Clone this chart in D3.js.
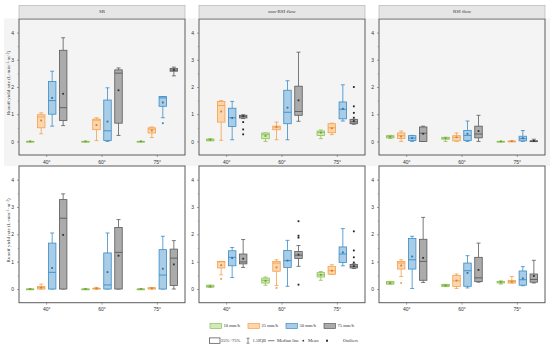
<!DOCTYPE html>
<html>
<head>
<meta charset="utf-8">
<script src="https://cdn.jsdelivr.net/npm/d3@7"></script>
<style>
  body { margin: 0; background: #fff; }
  svg { display: block; font-family: "Liberation Serif", "DejaVu Serif", serif; }
</style>
</head>
<body>
<div id="chart"></div>
<script>
// ===============================
// DATA
// ===============================
const angles = ["40°", "60°", "75°"];
const intensities = ["10 mm/h", "25 mm/h", "50 mm/h", "75 mm/h"];
const panelTitles = ["SR", "non-RSI flow", "RSI flow"];
const yTicks = [0, 1, 2, 3, 4];

// each box: [low whisker, q1, median, q3, high whisker, mean, outliers]
// order: 40° (10,25,50,75), 60° (...), 75° (...)
const srTop = [
  [0, 0, 0, 0, 0, 0, []], [0.28, 0.5, 0.9, 0.98, 1.05, 0.77, []], [0.56, 1.0, 1.5, 2.2, 2.58, 1.6, []], [0.58, 0.77, 1.24, 3.35, 3.81, 1.75, []],
  [0, 0, 0, 0, 0, 0, []], [0.03, 0.43, 0.78, 0.82, 0.87, 0.6, []], [0, 0.03, 0.39, 1.52, 1.97, 0.73, []], [0.22, 0.67, 2.51, 2.63, 2.7, 1.88, []],
  [0, 0, 0, 0, 0, 0, []], [0.14, 0.31, 0.45, 0.5, 0.53, 0.4, []], [0.87, 1.29, 1.6, 1.65, 1.65, 1.43, [0.67]], [2.41, 2.58, 2.62, 2.68, 2.73, 2.63, []]
];
const nonRsiTop = [
  [0.03, 0.02, 0.06, 0.085, 0.1, 0.06, []], [0.04, 0.71, 1.32, 1.47, 1.5, 1.1, []], [0.06, 0.55, 0.87, 1.22, 1.47, 0.86, []], [0.84, 0.86, 0.92, 0.96, 0.98, 0.93, [0.71, 0.44, 0.26]],
  [0, 0.1, 0.25, 0.31, 0.31, 0.2, []], [0.06, 0.43, 0.53, 0.56, 0.71, 0.52, []], [0.06, 0.65, 1.07, 1.88, 2.23, 1.24, []], [0.74, 0.96, 1.1, 2.03, 3.28, 1.51, []],
  [0.1, 0.22, 0.33, 0.38, 0.42, 0.32, []], [0.25, 0.32, 0.5, 0.65, 0.67, 0.48, []], [0.75, 0.83, 1.18, 1.45, 2.08, 1.2, []], [0.63, 0.65, 0.72, 0.81, 0.81, 0.75, [2.0, 1.29, 1.05, 0.87]]
];
const rsiTop = [
  [0.11, 0.13, 0.17, 0.21, 0.22, 0.17, []], [0, 0.11, 0.21, 0.31, 0.38, 0.18, []], [0, 0.03, 0.12, 0.21, 0.22, 0.12, []], [0, 0, 0.3, 0.53, 0.56, 0.28, []],
  [0, 0.08, 0.12, 0.15, 0.15, 0.12, []], [0, 0.02, 0.15, 0.21, 0.31, 0.15, []], [0, 0.03, 0.22, 0.4, 0.75, 0.28, []], [0, 0.13, 0.27, 0.56, 0.96, 0.38, []],
  [0, 0, 0, 0, 0, 0, []], [0, 0, 0.01, 0.01, 0.01, 0.01, []], [0, 0.02, 0.1, 0.19, 0.4, 0.12, []], [0, 0, 0.01, 0.02, 0.08, 0.02, []]
];
const srBottom = [
  [0, 0, 0, 0, 0, 0, []], [0, 0, 0.05, 0.09, 0.18, 0.05, []], [0, 0, 0.61, 1.68, 2.05, 0.77, []], [0, 0, 2.59, 3.27, 3.48, 1.98, []],
  [0, 0, 0, 0, 0, 0, []], [0, 0, 0.02, 0.03, 0.06, 0.02, []], [0, 0, 0.15, 1.32, 2.05, 0.62, []], [0, 0, 1.34, 2.25, 2.54, 1.22, []],
  [0, 0, 0, 0, 0, 0, []], [0, 0, 0.03, 0.05, 0.05, 0.03, []], [0, 0, 0.51, 1.44, 1.93, 0.74, []], [0, 0.13, 1.13, 1.46, 1.77, 0.9, []]
];
const nonRsiBottom = [
  [0.06, 0.07, 0.1, 0.14, 0.14, 0.1, []], [0.52, 0.77, 1.0, 1.01, 1.01, 0.87, [0.37]], [0.42, 0.85, 1.16, 1.4, 1.52, 1.13, []], [0.79, 0.92, 0.99, 1.28, 1.81, 1.11, []],
  [0.14, 0.22, 0.32, 0.4, 0.44, 0.3, []], [0.13, 0.65, 0.95, 1.01, 1.07, 0.79, [0.04]], [0.1, 0.79, 1.04, 1.41, 1.78, 1.04, []], [0.83, 1.12, 1.24, 1.37, 1.59, 1.26, [2.48, 1.95, 1.88, 0.16]],
  [0.32, 0.44, 0.52, 0.6, 0.64, 0.52, []], [0.54, 0.54, 0.67, 0.83, 0.89, 0.67, []], [0.85, 0.97, 1.28, 1.54, 2.21, 1.34, []], [0.75, 0.77, 0.83, 0.9, 0.92, 0.84, [2.11, 1.41, 1.16, 0.97]]
];
const rsiBottom = [
  [0.18, 0.18, 0.22, 0.28, 0.28, 0.22, []], [0.46, 0.73, 0.95, 1.01, 1.07, 0.86, [0.22]], [0.02, 0.73, 1.07, 1.85, 1.93, 1.19, []], [0.24, 0.32, 1.01, 1.82, 2.62, 1.14, []],
  [0.09, 0.09, 0.13, 0.17, 0.17, 0.13, []], [0.02, 0.09, 0.3, 0.5, 0.55, 0.31, []], [0.04, 0.1, 0.67, 0.95, 1.22, 0.59, []], [0.25, 0.27, 0.41, 1.16, 1.68, 0.7, []],
  [0.18, 0.22, 0.26, 0.28, 0.3, 0.25, []], [0.22, 0.22, 0.27, 0.31, 0.46, 0.27, []], [0.12, 0.14, 0.34, 0.66, 0.82, 0.39, []], [0.22, 0.25, 0.35, 0.55, 1.05, 0.48, []]
];

const rowData = [
  [srTop, nonRsiTop, rsiTop],
  [srBottom, nonRsiBottom, rsiBottom]
];

// ===============================
// STYLE
// ===============================
const strokeColors = ["#8cc152", "#f5a04a", "#3a8cc8", "#5a5a5a"];
const fillColors = ["#d3e9bb", "#fdd6ae", "#a9cde6", "#ababab"];

const svg = d3.select("#chart").append("svg")
  .attr("width", 550)
  .attr("height", 347);

const panelX = [19, 199, 379];
const panelW = 166;
const rowTop = [19, 166];
const rowBottom = [155, 302.7];
const fs = 5;

// light grey backdrop behind the top row
svg.append("rect")
  .attr("x", 4).attr("y", 18.5)
  .attr("width", 546).attr("height", 147.5)
  .attr("fill", "#f4f4f4");

// ===============================
// PANELS
// ===============================
rowData.forEach((row, r) => {
  const y = d3.scaleLinear().domain([-0.5, 4.5]).range([rowBottom[r], rowTop[r]]);

  row.forEach((boxes, p) => {
    const x0 = panelX[p];
    const x = d3.scaleBand().domain(angles).range([x0, x0 + panelW]);
    const xi = d3.scalePoint().domain(intensities).range([-16.5, 16.5]);
    const boxW = 7.5;

    const g = svg.append("g");

    // panel frame
    g.append("rect")
      .attr("x", x0).attr("y", rowTop[r])
      .attr("width", panelW).attr("height", rowBottom[r] - rowTop[r])
      .attr("fill", r === 0 ? "#f4f4f4" : "#fff")
      .attr("stroke", "#5c5c5c")
      .attr("stroke-width", 1);

    // header strip (top row only)
    if (r === 0) {
      g.append("rect")
        .attr("x", x0).attr("y", 5.5)
        .attr("width", panelW).attr("height", 13)
        .attr("fill", "#e6e6e6")
        .attr("stroke", "#aaa")
        .attr("stroke-width", 0.6);
      g.append("text")
        .attr("x", x0 + panelW / 2).attr("y", 12)
        .attr("text-anchor", "middle")
        .attr("dominant-baseline", "middle")
        .attr("font-size", fs)
        .attr("fill", "#333")
        .text(panelTitles[p]);
    }

    // y axis
    const yAxis = g.append("g")
      .attr("transform", `translate(${x0},0)`)
      .call(d3.axisLeft(y).tickValues(yTicks).tickFormat(d3.format("d")).tickSize(2).tickPadding(3));
    yAxis.select(".domain").remove();
    yAxis.selectAll("text").attr("font-size", fs).attr("font-family", null).attr("fill", "#333");
    yAxis.selectAll("line").attr("stroke", "#666").attr("stroke-width", 0.6);
    g.append("g")
      .attr("transform", `translate(${x0},0)`)
      .call(d3.axisLeft(y).tickValues(yTicks.slice(0, 4).map(v => v + 0.5)).tickSize(1.2).tickFormat(""))
      .call(a => a.select(".domain").remove())
      .call(a => a.selectAll("line").attr("stroke", "#666").attr("stroke-width", 0.5));

    // x axis
    const xAxis = g.append("g")
      .attr("transform", `translate(0,${rowBottom[r]})`)
      .call(d3.axisBottom(x).tickSize(2).tickPadding(3));
    xAxis.select(".domain").remove();
    xAxis.selectAll("text").attr("font-size", fs).attr("font-family", null).attr("fill", "#333");
    xAxis.selectAll("line").attr("stroke", "#666").attr("stroke-width", 0.6);

    // boxes
    boxes.forEach((b, k) => {
      const [lo, q1, med, q3, hi, mean, outs] = b;
      const ai = Math.floor(k / 4);
      const ii = k % 4;
      const cx = x(angles[ai]) + x.bandwidth() / 2 + xi(intensities[ii]);
      const sc = strokeColors[ii];
      const bg = g.append("g");

      // whiskers
      bg.append("line")
        .attr("x1", cx).attr("x2", cx)
        .attr("y1", y(hi)).attr("y2", y(q3))
        .attr("stroke", sc).attr("stroke-width", 0.8);
      bg.append("line")
        .attr("x1", cx).attr("x2", cx)
        .attr("y1", y(q1)).attr("y2", y(lo))
        .attr("stroke", sc).attr("stroke-width", 0.8);
      [lo, hi].forEach(v => {
        bg.append("line")
          .attr("x1", cx - 2).attr("x2", cx + 2)
          .attr("y1", y(v)).attr("y2", y(v))
          .attr("stroke", sc).attr("stroke-width", 0.8);
      });

      // box
      bg.append("rect")
        .attr("x", cx - boxW / 2)
        .attr("y", y(q3))
        .attr("width", boxW)
        .attr("height", Math.max(0.8, y(q1) - y(q3)))
        .attr("fill", fillColors[ii])
        .attr("stroke", sc)
        .attr("stroke-width", 0.8);

      // median
      bg.append("line")
        .attr("x1", cx - boxW / 2).attr("x2", cx + boxW / 2)
        .attr("y1", y(med)).attr("y2", y(med))
        .attr("stroke", sc).attr("stroke-width", 0.9);

      // mean
      bg.append("rect")
        .attr("x", cx - 0.9).attr("y", y(mean) - 0.9)
        .attr("width", 1.8).attr("height", 1.8)
        .attr("fill", ii === 3 ? "#333" : d3.color(sc).darker(0.6));

      // outliers
      outs.forEach(o => {
        bg.append("rect")
          .attr("x", cx - 0.9).attr("y", y(o) - 0.9)
          .attr("width", 1.8).attr("height", 1.8)
          .attr("fill", ii === 3 ? "#222" : sc);
      });
    });

    // y axis title (left panels)
    if (p === 0) {
      const t = g.append("text")
        .attr("transform", `translate(9,${(rowTop[r] + rowBottom[r]) / 2 - 4}) rotate(-90)`)
        .attr("text-anchor", "middle")
        .attr("dominant-baseline", "middle")
        .attr("font-size", fs)
        .attr("fill", "#333");
      t.append("tspan").text("Runoff yield rate (L·min");
      t.append("tspan").attr("font-size", 3.5).attr("dy", -1.5).text("−1");
      t.append("tspan").attr("dy", 1.5).text("·m");
      t.append("tspan").attr("font-size", 3.5).attr("dy", -1.5).text("−2");
      t.append("tspan").attr("dy", 1.5).text(")");
    }
  });
});

// ===============================
// LEGEND
// ===============================
const legendX = [210, 248, 286, 324];
const leg = svg.append("g");
intensities.forEach((lab, i) => {
  leg.append("rect")
    .attr("x", legendX[i]).attr("y", 323.5)
    .attr("width", 11.5).attr("height", 5)
    .attr("fill", fillColors[i])
    .attr("stroke", strokeColors[i])
    .attr("stroke-width", 0.7);
  leg.append("text")
    .attr("x", legendX[i] + 13.5).attr("y", 326.2)
    .attr("dominant-baseline", "middle")
    .attr("font-size", 4.6)
    .attr("fill", "#333")
    .text(lab);
});

const ly = 340.7;
const leg2 = svg.append("g").attr("fill", "#333").attr("font-size", 4.6);
leg2.append("rect")
  .attr("x", 209.5).attr("y", ly - 2.8)
  .attr("width", 10.5).attr("height", 5.4)
  .attr("fill", "#fff").attr("stroke", "#444").attr("stroke-width", 0.7);
leg2.append("text").attr("x", 221).attr("y", ly).attr("dominant-baseline", "middle").text("25%~75%");
leg2.append("path")
  .attr("d", `M${246.5},${ly - 2.5}H${249.5}M248,${ly - 2.5}V${ly + 2.5}M${246.5},${ly + 2.5}H${249.5}`)
  .attr("stroke", "#444").attr("stroke-width", 0.6).attr("fill", "none");
leg2.append("text").attr("x", 252.5).attr("y", ly).attr("dominant-baseline", "middle").text("1.5IQR");
leg2.append("line")
  .attr("x1", 268).attr("x2", 274.5).attr("y1", ly).attr("y2", ly)
  .attr("stroke", "#444").attr("stroke-width", 0.7);
leg2.append("text").attr("x", 277).attr("y", ly).attr("dominant-baseline", "middle").text("Median line");
leg2.append("rect").attr("x", 302.5).attr("y", ly - 0.8).attr("width", 1.6).attr("height", 1.6);
leg2.append("text").attr("x", 308).attr("y", ly).attr("dominant-baseline", "middle").text("Mean");
leg2.append("rect").attr("x", 326).attr("y", ly - 1).attr("width", 2).attr("height", 2);
leg2.append("text").attr("x", 343).attr("y", ly).attr("dominant-baseline", "middle").text("Outliers");
</script>
</body>
</html>
